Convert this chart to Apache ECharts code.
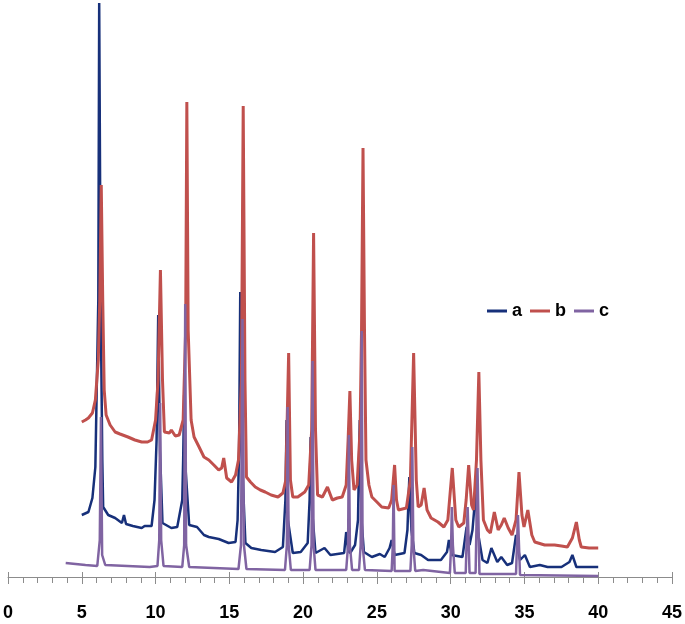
<!DOCTYPE html>
<html>
<head>
<meta charset="utf-8">
<script src="https://cdn.jsdelivr.net/npm/echarts@6/dist/echarts.min.js"></script>
<style>
  html, body { margin: 0; padding: 0; background: #fff; }
  #xrd-chart { width: 685px; height: 624px; }
</style>
</head>
<body>
<div id="xrd-chart"></div>
<script>
// series names (legend)
var seriesNames = ['a', 'b', 'c'];

// x axis: 2-theta range and label step
var xMin = 0, xMax = 45, xStep = 5;

// intensity (arbitrary units)
var seriesA = [
  [5.0, 62], [5.45, 65], [5.72, 79], [5.92, 110], [6.12, 277], [6.18, 574], [6.28, 277], [6.39, 117],
  [6.45, 70], [6.79, 62], [7.26, 59], [7.72, 54], [7.86, 62], [8.0, 53], [8.46, 51], [9.06, 49],
  [9.26, 51], [9.73, 51], [9.93, 77], [10.07, 137], [10.18, 262], [10.30, 127], [10.47, 54],
  [11.07, 49], [11.47, 50], [11.81, 77], [11.87, 117], [11.94, 182], [12.04, 107], [12.28, 52],
  [12.81, 50], [13.28, 42], [13.61, 40], [14.28, 38], [14.95, 34], [15.42, 35], [15.56, 57],
  [15.66, 127], [15.74, 285], [15.83, 127], [16.09, 34], [16.49, 29], [17.16, 27], [18.1, 25],
  [18.63, 30], [18.80, 77], [18.88, 157], [18.97, 57], [19.3, 24], [19.84, 25], [20.31, 34],
  [20.44, 77], [20.51, 140], [20.61, 67], [20.84, 24], [21.45, 29], [21.85, 22], [22.78, 24],
  [22.92, 45], [23.05, 27], [23.19, 24], [23.52, 32], [23.72, 57], [23.84, 157], [23.96, 57],
  [24.12, 25], [24.66, 20], [25.2, 23], [25.53, 20], [25.86, 29], [26.0, 37], [26.2, 22],
  [26.33, 20], [26.87, 24], [27.07, 47], [27.2, 100], [27.34, 47], [27.54, 24], [28.0, 22],
  [28.47, 17], [29.34, 17], [29.75, 25], [29.88, 37], [30.08, 22], [30.2, 20], [30.8, 20],
  [31.08, 50], [31.28, 32], [31.48, 47], [31.62, 72], [31.69, 90], [31.82, 47], [32.16, 17],
  [32.49, 14], [32.76, 29], [33.16, 15], [33.43, 20], [33.83, 12], [34.16, 14], [34.43, 42],
  [34.7, 17], [35.03, 22], [35.37, 10], [36.04, 12], [36.57, 10], [37.51, 10], [38.05, 15],
  [38.25, 22], [38.52, 10], [39.05, 10], [40.0, 10]
];

var seriesB = [
  [5.0, 155], [5.25, 157], [5.45, 159], [5.72, 164], [5.92, 177], [6.12, 217], [6.22, 277],
  [6.32, 392], [6.42, 277], [6.52, 187], [6.65, 162], [6.92, 152], [7.26, 145], [7.59, 143],
  [8.13, 140], [8.6, 137], [9.06, 135], [9.46, 135], [9.73, 137], [10.0, 157], [10.17, 197],
  [10.33, 307], [10.47, 197], [10.6, 145], [10.94, 144], [11.07, 147], [11.34, 141], [11.6, 142],
  [11.87, 157], [12.04, 247], [12.12, 475], [12.21, 247], [12.41, 157], [12.61, 140], [12.95, 130],
  [13.28, 120], [13.61, 117], [13.95, 112], [14.28, 107], [14.48, 109], [14.62, 119], [14.82, 99],
  [15.15, 95], [15.42, 102], [15.62, 117], [15.82, 197], [15.94, 471], [16.06, 197], [16.16, 100],
  [16.43, 95], [16.76, 90], [17.1, 87], [17.43, 85], [17.83, 82], [18.3, 80], [18.63, 84],
  [18.83, 97], [19.02, 224], [19.14, 97], [19.3, 80], [19.64, 80], [20.11, 85], [20.38, 92],
  [20.58, 147], [20.71, 344], [20.84, 147], [20.98, 82], [21.31, 80], [21.65, 90], [21.98, 77],
  [22.32, 79], [22.65, 80], [22.92, 92], [23.05, 137], [23.17, 186], [23.29, 117], [23.45, 87],
  [23.66, 92], [23.86, 147], [23.96, 247], [24.06, 429], [24.16, 247], [24.26, 117], [24.46, 92],
  [24.66, 80], [25.0, 75], [25.33, 70], [25.8, 69], [26.0, 77], [26.2, 112], [26.33, 77],
  [26.46, 67], [27.0, 69], [27.27, 97], [27.49, 224], [27.67, 97], [27.8, 70], [28.0, 72],
  [28.2, 89], [28.4, 67], [28.67, 59], [29.14, 55], [29.54, 50], [29.81, 57], [30.11, 109],
  [30.35, 57], [30.55, 50], [30.89, 54], [31.05, 77], [31.22, 112], [31.42, 72], [31.55, 67],
  [31.75, 117], [31.91, 205], [32.05, 117], [32.22, 57], [32.49, 47], [32.69, 44], [32.96, 65],
  [33.22, 47], [33.43, 52], [33.63, 59], [33.9, 49], [34.16, 42], [34.43, 57], [34.63, 105],
  [34.83, 62], [34.97, 50], [35.23, 67], [35.5, 42], [35.7, 35], [36.37, 32], [37.04, 32],
  [37.51, 31], [37.91, 30], [38.25, 39], [38.52, 55], [38.72, 37], [38.85, 30], [39.38, 29],
  [40.0, 29]
];

var seriesC = [
  [3.91, 14], [4.58, 13], [5.25, 12], [6.05, 11], [6.22, 37], [6.30, 160], [6.38, 22], [6.59, 12],
  [9.6, 10], [10.13, 11], [10.25, 37], [10.31, 174], [10.38, 37], [10.54, 11], [11.81, 10],
  [11.94, 32], [12.01, 273], [12.07, 32], [12.28, 10], [15.62, 8], [15.79, 32], [15.89, 258],
  [15.99, 32], [16.16, 8], [18.77, 7], [18.9, 32], [18.95, 170], [19.02, 32], [19.17, 7],
  [20.44, 7], [20.57, 32], [20.64, 216], [20.71, 32], [20.84, 7], [22.92, 7], [23.05, 32],
  [23.1, 142], [23.17, 32], [23.32, 7], [23.79, 7], [23.9, 32], [23.97, 246], [24.03, 32],
  [24.19, 7], [26.0, 6], [26.08, 32], [26.13, 92], [26.2, 6], [27.27, 6], [27.36, 32],
  [27.4, 130], [27.47, 32], [27.6, 6], [28.14, 7], [29.95, 4], [30.03, 32], [30.08, 70],
  [30.15, 32], [30.28, 4], [31.02, 4], [31.15, 70], [31.28, 4], [31.69, 4], [31.82, 109],
  [31.95, 3], [34.43, 3], [34.56, 62], [34.7, 2], [40.0, 1]
];

var seriesColors = ['#17307a', '#c0504d', '#8064a2'];

function loadXrdChart() {
  var xrdChart = echarts.init(document.getElementById('xrd-chart'));
  var labelFont = "'Liberation Sans', Arial, sans-serif";

  var xrdOption = {
    animation: false,
    color: seriesColors,
    legend: {
      data: seriesNames,
      left: 482,
      top: 297,
      icon: 'rect',
      itemWidth: 20,
      itemHeight: 3,
      itemGap: 8,
      textStyle: {
        fontFamily: labelFont,
        fontWeight: 'bold',
        fontSize: 18,
        color: '#000'
      }
    },
    grid: {
      left: 6.6,
      right: 6,
      top: 0,
      bottom: 47
    },
    xAxis: [{
      type: 'value',
      min: xMin,
      max: xMax,
      interval: xStep,
      axisLine: { lineStyle: { color: '#8c8c8c', width: 1 } },
      axisTick: { length: 7, lineStyle: { color: '#8c8c8c' } },
      minorTick: { show: true, splitNumber: 5, length: 6, lineStyle: { color: '#8c8c8c' } },
      splitLine: { show: false },
      axisLabel: {
        margin: 27,
        fontFamily: labelFont,
        fontWeight: 'bold',
        fontSize: 18,
        color: '#000'
      }
    }, {
      // upper half of the major ticks
      type: 'value',
      position: 'bottom',
      min: xMin,
      max: xMax,
      interval: xStep,
      axisLine: { show: false },
      axisTick: { inside: true, length: 5, lineStyle: { color: '#8c8c8c' } },
      axisLabel: { show: false },
      splitLine: { show: false }
    }],
    yAxis: {
      type: 'value',
      show: false,
      min: 0,
      max: 577
    },
    series: [{
      name: seriesNames[0],
      type: 'line',
      data: seriesA,
      symbol: 'none',
      lineStyle: { width: 2.5 }
    }, {
      name: seriesNames[1],
      type: 'line',
      data: seriesB,
      symbol: 'none',
      lineStyle: { width: 3 }
    }, {
      name: seriesNames[2],
      type: 'line',
      data: seriesC,
      symbol: 'none',
      lineStyle: { width: 2.5 }
    }]
  };

  xrdChart.setOption(xrdOption);
}

loadXrdChart();
</script>
</body>
</html>
